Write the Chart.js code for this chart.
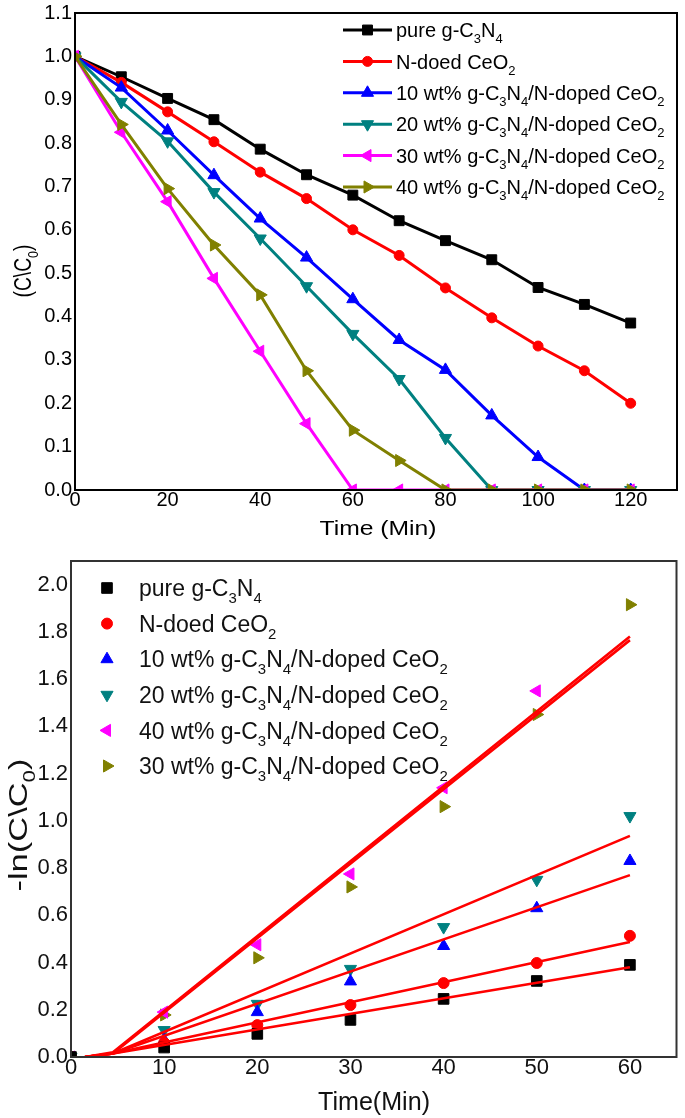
<!DOCTYPE html>
<html>
<head>
<meta charset="utf-8">
<script src="https://cdn.jsdelivr.net/npm/chart.js@4.4.1/dist/chart.umd.min.js"></script>
<style>
  html, body { margin: 0; padding: 0; background: #fff; }
  canvas { display: block; }
</style>
</head>
<body>
<canvas id="decay" width="685" height="545"></canvas>
<canvas id="kinetics" width="685" height="573"></canvas>
<script>
// ---- top panel: C/C0 vs time ----
const times = [0, 10, 20, 30, 40, 50, 60, 70, 80, 90, 100, 110, 120];
const pureC3N4 = [1.0, 0.953, 0.903, 0.854, 0.786, 0.727, 0.68, 0.621, 0.575, 0.531, 0.467, 0.428, 0.385];
const nDopedCeO2 = [1.0, 0.94, 0.872, 0.803, 0.733, 0.672, 0.6, 0.541, 0.466, 0.397, 0.332, 0.275, 0.2];
const wt10 = [1.0, 0.928, 0.829, 0.726, 0.626, 0.536, 0.44, 0.346, 0.277, 0.172, 0.076, 0, 0];
const wt20 = [1.0, 0.895, 0.804, 0.687, 0.58, 0.47, 0.36, 0.256, 0.12, 0, 0, 0, 0];
const wt30 = [1.0, 0.825, 0.665, 0.488, 0.32, 0.153, 0, 0, 0, 0, 0, 0, 0];
const wt40 = [1.0, 0.843, 0.695, 0.565, 0.45, 0.275, 0.138, 0.068, 0, 0, 0, 0, 0];
const decayNames = [
  'pure g-C_3N_4',
  'N-doed CeO_2',
  '10 wt% g-C_3N_4/N-doped CeO_2',
  '20 wt% g-C_3N_4/N-doped CeO_2',
  '30 wt% g-C_3N_4/N-doped CeO_2',
  '40 wt% g-C_3N_4/N-doped CeO_2'
];
const decayTicksX = [0, 20, 40, 60, 80, 100, 120];
const decayTicksY = [0, 0.1, 0.2, 0.3, 0.4, 0.5, 0.6, 0.7, 0.8, 0.9, 1.0, 1.1];

// ---- bottom panel: -ln(C/C0) vs time ----
const kTimes = [0, 10, 20, 30, 40, 50, 60];
const lnPure = [0, 0.04, 0.098, 0.157, 0.246, 0.322, 0.39];
const lnNDoped = [0, 0.06, 0.135, 0.22, 0.313, 0.398, 0.513];
const ln10 = [0, 0.072, 0.19, 0.32, 0.47, 0.63, 0.83];
const ln20 = [0, 0.114, 0.225, 0.373, 0.55, 0.75, 1.02];
const ln40 = [0, 0.19, 0.475, 0.775, 1.14, 1.55, null];
const ln30 = [0, 0.178, 0.42, 0.72, 1.06, 1.45, 1.915];
const kineticNames = [
  'pure g-C_3N_4',
  'N-doed CeO_2',
  '10 wt% g-C_3N_4/N-doped CeO_2',
  '20 wt% g-C_3N_4/N-doped CeO_2',
  '40 wt% g-C_3N_4/N-doped CeO_2',
  '30 wt% g-C_3N_4/N-doped CeO_2'
];
// linear fits (red lines)
const fitTimes = [1.5, 4.5, 60];
const fitPure = [0, 0.015, 0.38];
const fitNDoped = [0, 0.015, 0.487];
const fit10 = [0, 0.015, 0.77];
const fit20 = [0, 0.015, 0.936];
const fit40 = [0, 0.015, 1.765];
const fit30 = [0, 0.02, 1.78];
const kTicksX = [0, 10, 20, 30, 40, 50, 60];
const kTicksY = [0, 0.2, 0.4, 0.6, 0.8, 1.0, 1.2, 1.4, 1.6, 1.8, 2.0];

const FONT = "'Liberation Sans', Arial, sans-serif";

const pts = (xs, ys) => xs.map((x, i) => ({ x: x, y: ys[i] })).filter(p => p.y !== null);

// split "g-C_3N_4" into normal / subscript pieces
function splitSub(str) {
  return str.split(/(_\d)/).filter(s => s.length).map(s =>
    s[0] === '_' ? { t: s.slice(1), sub: true } : { t: s, sub: false });
}

function richWidth(ctx, str, size) {
  let w = 0;
  splitSub(str).forEach(p => {
    ctx.font = (p.sub ? size * 0.65 : size) + 'px ' + FONT;
    w += ctx.measureText(p.t).width;
  });
  return w;
}

// draws text starting at (0,0) on the baseline
function drawRich(ctx, str, size) {
  let x = 0;
  ctx.textBaseline = 'alphabetic';
  ctx.textAlign = 'left';
  splitSub(str).forEach(p => {
    const s = p.sub ? size * 0.65 : size;
    ctx.font = s + 'px ' + FONT;
    ctx.fillText(p.t, x, p.sub ? size * 0.3 : 0);
    x += ctx.measureText(p.t).width;
  });
}

function drawMarker(ctx, ds, x, y) {
  ctx.fillStyle = ds.pointBackgroundColor;
  ctx.strokeStyle = ds.pointBorderColor;
  ctx.lineWidth = 1;
  Chart.helpers.drawPoint(ctx, {
    pointStyle: ds.pointStyle,
    rotation: ds.pointRotation || 0,
    radius: ds.pointRadius,
    borderWidth: 1
  }, x, y);
}

// frame box, legend with subscripts and axis titles
const paperPlugin = {
  id: 'paper',
  afterDatasetsDraw(chart, args, opts) {
    const ctx = chart.ctx;
    const a = chart.chartArea;
    ctx.save();
    ctx.strokeStyle = opts.frameColor;
    ctx.lineWidth = 2;
    ctx.strokeRect(a.left, a.top, a.right - a.left, a.bottom - a.top);

    // legend
    const lg = opts.legend;
    let row = 0;
    chart.data.datasets.forEach(ds => {
      if (!ds.legendName) return;
      const y = lg.y0 + row * lg.dy;
      let mx = lg.markerX;
      if (lg.line) {
        ctx.strokeStyle = ds.borderColor;
        ctx.lineWidth = ds.borderWidth;
        ctx.beginPath();
        ctx.moveTo(lg.x0, y);
        ctx.lineTo(lg.x1, y);
        ctx.stroke();
        mx = (lg.x0 + lg.x1) / 2;
      }
      drawMarker(ctx, ds, mx, y);
      ctx.save();
      ctx.fillStyle = opts.textColor;
      ctx.translate(lg.textX, y + lg.size * 0.36);
      drawRich(ctx, ds.legendName, lg.size);
      ctx.restore();
      row++;
    });

    // axis titles
    opts.titles.forEach(t => {
      ctx.save();
      ctx.fillStyle = opts.textColor;
      ctx.translate(t.x, t.y);
      if (t.rotate) ctx.rotate(-Math.PI / 2);
      const w = richWidth(ctx, t.text, t.size);
      const sx = t.length / w;
      ctx.scale(sx, 1);
      ctx.translate(-w / 2, 0);
      drawRich(ctx, t.text, t.size);
      ctx.restore();
    });
    ctx.restore();
  }
};

function lineSet(name, values, color, style, rot, r, order) {
  return {
    label: name.replace(/_/g, ''),
    legendName: name,
    data: pts(times, values),
    borderColor: color,
    backgroundColor: color,
    borderWidth: 3,
    pointStyle: style,
    pointRotation: rot,
    pointRadius: r,
    pointBackgroundColor: color,
    pointBorderColor: color,
    pointBorderWidth: 1,
    tension: 0,
    order: order
  };
}

function pointSet(name, values, color, style, rot, r) {
  return {
    label: name.replace(/_/g, ''),
    legendName: name,
    data: pts(kTimes, values),
    showLine: false,
    borderColor: color,
    backgroundColor: color,
    pointStyle: style,
    pointRotation: rot,
    pointRadius: r,
    pointBackgroundColor: color,
    pointBorderColor: color,
    pointBorderWidth: 1,
    order: 0
  };
}

function fitSet(values) {
  return {
    label: 'fit',
    data: pts(fitTimes, values),
    borderColor: '#ff0000',
    borderWidth: 2.6,
    pointRadius: 0,
    tension: 0,
    order: -10
  };
}

function axes(xMin, xMax, xTicks, yMin, yMax, yTicks, yWidth, xHeight, size, color) {
  const tickFont = { family: FONT, size: size, lineHeight: 1 };
  return {
    x: {
      type: 'linear', min: xMin, max: xMax,
      afterBuildTicks: s => { s.ticks = xTicks.map(v => ({ value: v })); },
      afterFit: s => { s.height = xHeight; },
      grid: { display: false, drawTicks: false },
      border: { display: false },
      ticks: { padding: 0, color: color, font: tickFont, callback: v => String(v) }
    },
    y: {
      type: 'linear', min: yMin, max: yMax,
      afterBuildTicks: s => { s.ticks = yTicks.map(v => ({ value: v })); },
      afterFit: s => { s.width = yWidth; },
      grid: { display: false, drawTicks: false },
      border: { display: false },
      ticks: { padding: 3, color: color, font: tickFont, callback: v => v.toFixed(1) }
    }
  };
}

new Chart(document.getElementById('decay'), {
  type: 'line',
  data: {
    datasets: [
      lineSet(decayNames[0], pureC3N4, '#000000', 'rect', 0, 7, 0),
      lineSet(decayNames[1], nDopedCeO2, '#ff0000', 'circle', 0, 5, -1),
      lineSet(decayNames[2], wt10, '#0000ff', 'triangle', 0, 7, -2),
      lineSet(decayNames[3], wt20, '#008080', 'triangle', 180, 7, -3),
      lineSet(decayNames[4], wt30, '#ff00ff', 'triangle', 270, 7, -4),
      lineSet(decayNames[5], wt40, '#808000', 'triangle', 90, 7, -5)
    ]
  },
  options: {
    responsive: false,
    animation: false,
    devicePixelRatio: 1,
    layout: { padding: { top: 10, right: 3, left: 0, bottom: 0 } },
    plugins: {
      legend: { display: false },
      tooltip: { enabled: false },
      paper: {
        frameColor: '#000',
        textColor: '#000',
        legend: { line: true, x0: 343, x1: 392, textX: 396, y0: 30, dy: 31.4, size: 20 },
        titles: [
          { text: 'Time (Min)', x: 378, y: 535, size: 20, length: 117 },
          { text: '(C\\C_0)', x: 31, y: 271, size: 23, length: 53, rotate: true }
        ]
      }
    },
    scales: axes(0, 130, decayTicksX, 0, 1.1, decayTicksY, 75, 55, 20, '#000')
  },
  plugins: [paperPlugin]
});

new Chart(document.getElementById('kinetics'), {
  type: 'line',
  data: {
    datasets: [
      pointSet(kineticNames[0], lnPure, '#000000', 'rect', 0, 7.5),
      pointSet(kineticNames[1], lnNDoped, '#ff0000', 'circle', 0, 5.5),
      pointSet(kineticNames[2], ln10, '#0000ff', 'triangle', 0, 7),
      pointSet(kineticNames[3], ln20, '#008080', 'triangle', 180, 7),
      pointSet(kineticNames[4], ln40, '#ff00ff', 'triangle', 270, 7),
      pointSet(kineticNames[5], ln30, '#808000', 'triangle', 90, 7),
      fitSet(fitPure),
      fitSet(fitNDoped),
      fitSet(fit10),
      fitSet(fit20),
      fitSet(fit40),
      fitSet(fit30)
    ]
  },
  options: {
    responsive: false,
    animation: false,
    devicePixelRatio: 1,
    layout: { padding: { top: 16, right: 3, left: 0, bottom: 0 } },
    plugins: {
      legend: { display: false },
      tooltip: { enabled: false },
      paper: {
        frameColor: '#333',
        textColor: '#111',
        legend: { line: false, markerX: 107, textX: 139, y0: 43, dy: 35.6, size: 23 },
        titles: [
          { text: 'Time(Min)', x: 374, y: 565, size: 25, length: 112 },
          { text: '-ln(C\\C_0)', x: 27, y: 280, size: 25, length: 133, rotate: true }
        ]
      }
    },
    scales: axes(0, 65, kTicksX, 0, 2.1, kTicksY, 71, 61, 22, '#111')
  },
  plugins: [paperPlugin]
});
</script>
</body>
</html>
